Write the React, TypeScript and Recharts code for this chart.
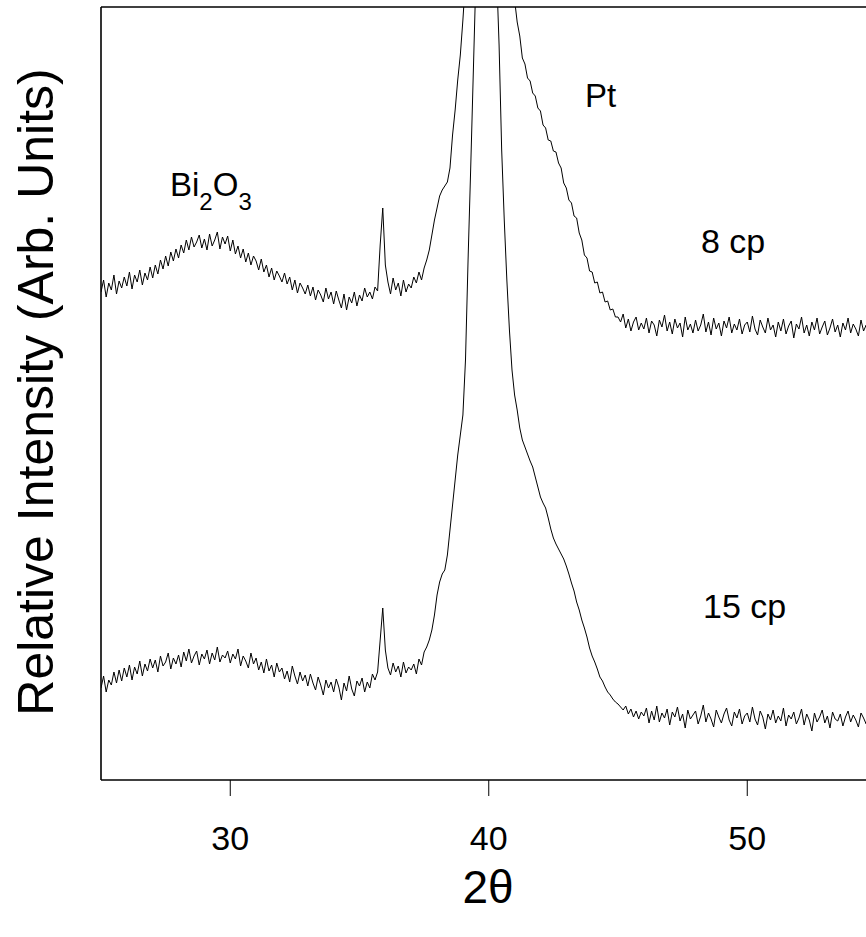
import React from 'react';
import { LineChart, Line, XAxis, YAxis, ReferenceLine } from 'recharts';

// 2θ grid: start 25.0, step 0.1 (301 samples up to 55.0)
const thetaStart = 25;
const thetaStep = 0.1;
const xTicks = [30, 40, 50];

// 8 cp trace (upper), intensity in arbitrary units
const cp8 = [
  488, 500, 483, 497, 490, 505, 486, 499, 492, 503,
  494, 508, 491, 505, 498, 510, 495, 507, 500, 513,
  502, 515, 506, 520, 511, 524, 514, 528, 519, 531,
  522, 535, 527, 540, 530, 543, 533, 538, 545, 532,
  541, 530, 546, 534, 540, 548, 531, 543, 536, 544,
  529, 540, 526, 534, 522, 531, 518, 527, 515, 524,
  519, 510, 521, 508, 515, 503, 512, 500, 509, 504,
  498, 507, 496, 503, 490, 500, 487, 497, 492, 486,
  495, 484, 493, 480, 490, 485, 478, 492, 481, 488,
  476, 489, 480, 472, 486, 470, 483, 477, 488, 474,
  485, 479, 492, 483, 488, 481, 493, 489, 535, 572,
  515, 498, 486, 502, 490, 497, 484, 500, 488, 496,
  492, 503, 497, 508, 500, 512, 520, 530, 545, 560,
  572, 584, 590, 594, 598, 612, 645, 670, 700, 725,
  760, 800, 860, 930, 1020, 1120, 1250, 1380, 1480, 1530,
  1540, 1500, 1420, 1320, 1200, 1090, 990, 910, 850, 810,
  780, 758, 744, 722, 716, 702, 699, 687, 684, 672,
  669, 655, 652, 640, 639, 629, 628, 617, 612, 597,
  592, 580, 577, 564, 562, 547, 540, 525, 522, 509,
  508, 497, 498, 487, 488, 478, 479, 470, 471, 463,
  463, 458, 466, 452, 461, 449, 458, 463, 450, 457,
  451, 462, 447, 459, 455, 444, 460, 453, 465, 449,
  458, 446, 461, 452, 457, 443, 463, 450, 456, 447,
  460, 449, 455, 466, 448, 458, 445, 462, 451, 457,
  444, 459, 452, 463, 447, 456, 450, 461, 446, 455,
  458, 448, 464, 451, 445, 460, 453, 447, 462, 450,
  455, 443, 458, 449, 461, 446, 454, 459, 442, 456,
  451, 463, 447, 455, 444, 458, 450, 462, 446, 453,
  459, 445, 452, 461, 448, 455, 443, 457, 450, 462,
  447, 456, 451, 444, 460, 449, 455, 446, 458, 452,
  454,
];

// 15 cp trace (lower)
const cp15 = [
  92, 104, 88, 100, 95, 108, 97, 110, 99, 112,
  103, 115, 100, 113, 106, 119, 104, 116, 109, 121,
  112, 120, 108, 124, 114, 118, 127, 111, 122, 116,
  125, 113, 128, 119, 131, 117, 124, 129, 115, 126,
  121, 130, 116, 127, 120, 133, 118, 125, 122, 129,
  117, 126, 121, 131, 114, 124, 119, 112, 127, 116,
  122, 110, 118, 107, 121, 109, 115, 103, 117, 108,
  112, 101, 109, 98, 114, 104, 96, 108, 99, 105,
  94, 106, 97, 90, 103, 95, 85, 100, 92, 98,
  88, 101, 93, 80, 97, 89, 104, 91, 84, 99,
  94, 102, 88, 98, 92, 106, 100, 108, 140, 172,
  130, 112, 105, 117, 108, 114, 103, 118, 107, 113,
  110, 116, 106, 121, 115, 128, 133, 140, 150, 165,
  185, 198, 206, 210, 225, 250, 275, 300, 325, 345,
  365, 420, 520, 610, 705, 800, 900, 1000, 1080, 1100,
  1070, 990, 900, 810, 735, 630, 560, 500, 450, 410,
  385, 370, 352, 340, 333, 326, 319, 313, 303, 293,
  283, 277, 272, 262, 251, 242, 236, 231, 226, 221,
  214, 206, 197, 189, 178, 170, 160, 152, 143, 132,
  124, 118, 111, 103, 99, 93, 88, 85, 81, 78,
  76, 73, 70, 74, 66, 71, 63, 69, 61, 68,
  64, 72, 57, 69, 60, 74, 58, 67, 62, 71,
  55, 68, 63, 73, 59, 66, 52, 70, 61, 65,
  69, 56, 64, 75, 58, 67, 61, 53, 70, 63,
  57, 66, 72, 60, 54, 68, 62, 71, 56, 64,
  67, 58, 73, 61, 55, 69, 63, 51, 66, 60,
  70, 57, 64, 59, 72, 54, 65, 61, 68, 56,
  62, 71, 55, 66, 60, 49, 67, 58, 63, 70,
  57, 64, 52, 68, 61, 59, 66, 54, 63, 69,
  58, 65, 60, 53, 67, 62, 56, 64, 59, 66,
  61,
];

const data = cp8.map((v, i) => ({
  theta: Math.round((thetaStart + i * thetaStep) * 10) / 10,
  cp8: v,
  cp15: cp15[i],
}));

const FONT = '"Liberation Sans", Arial, sans-serif';

const TickLabel = (props: any) => {
  const { x, y, payload } = props;
  return (
    <text x={x} y={y + 52} textAnchor="middle" fontSize={34} fontFamily={FONT} fill="#000">
      {payload.value}
    </text>
  );
};

export default function App() {
  return (
    <div style={{ position: 'absolute', left: 0, top: 0, width: 866, height: 937, overflow: 'hidden', background: '#fff' }}>
      <LineChart width={900} height={937} data={data} margin={{ top: 7, right: 23.5, left: 0, bottom: 0 }}>
        <XAxis
          dataKey="theta"
          type="number"
          domain={[25, 55]}
          ticks={xTicks}
          allowDataOverflow
          height={157}
          tickSize={16}
          tickLine={{ stroke: '#000', strokeWidth: 1 }}
          axisLine={{ stroke: '#000', strokeWidth: 1.6 }}
          tick={<TickLabel />}
          interval={0}
        />
        <YAxis
          type="number"
          domain={[0, 773]}
          allowDataOverflow
          width={101}
          tick={false}
          tickLine={false}
          axisLine={{ stroke: '#000', strokeWidth: 1.6 }}
        />
        <ReferenceLine y={773} stroke="#000" strokeWidth={1.6} />
        <Line type="linear" dataKey="cp8" stroke="#000" strokeWidth={1} dot={false} isAnimationActive={false} />
        <Line type="linear" dataKey="cp15" stroke="#000" strokeWidth={1} dot={false} isAnimationActive={false} />
      </LineChart>
      <svg width={866} height={937} style={{ position: 'absolute', left: 0, top: 0, pointerEvents: 'none' }}>
        <text transform="rotate(-90)" x={-392} y={53} textAnchor="middle" fontSize={50} fontFamily={FONT} fill="#000">
          Relative Intensity (Arb. Units)
        </text>
        <text x={488} y={903} textAnchor="middle" fontSize={46} fontFamily={FONT} fill="#000">
          2θ
        </text>
        <text x={170} y={196} fontSize={33} fontFamily={FONT} fill="#000">
          Bi
          <tspan fontSize={24} dy={14}>2</tspan>
          <tspan fontSize={33} dy={-14}>O</tspan>
          <tspan fontSize={24} dy={14}>3</tspan>
        </text>
        <text x={585} y={107} fontSize={33} fontFamily={FONT} fill="#000">Pt</text>
        <text x={701} y={253} fontSize={34} fontFamily={FONT} fill="#000">8 cp</text>
        <text x={703} y={618} fontSize={34} fontFamily={FONT} fill="#000">15 cp</text>
      </svg>
    </div>
  );
}
